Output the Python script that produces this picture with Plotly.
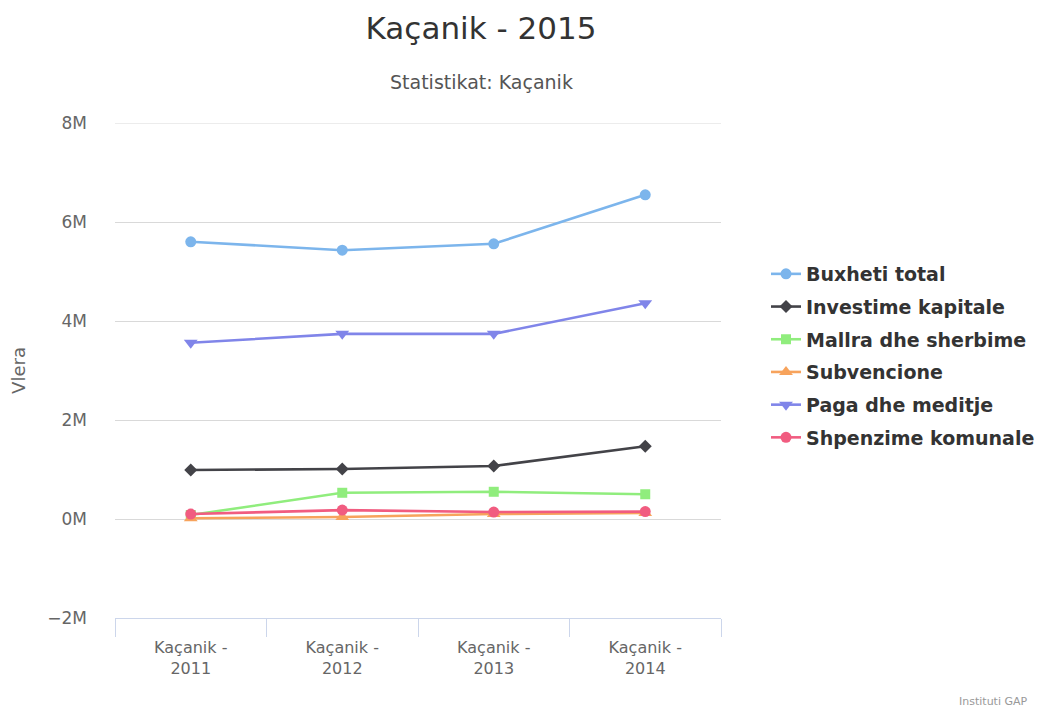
import plotly.graph_objects as go

categories = ["Kaçanik -<br>2011", "Kaçanik -<br>2012", "Kaçanik -<br>2013", "Kaçanik -<br>2014"]
buxheti_total = [5600000, 5430000, 5560000, 6550000]
investime_kapitale = [990000, 1010000, 1070000, 1470000]
mallra_dhe_sherbime = [80000, 530000, 550000, 500000]
subvencione = [15000, 40000, 100000, 120000]
paga_dhe_meditje = [3560000, 3740000, 3740000, 4360000]
shpenzime_komunale = [100000, 180000, 140000, 150000]
y_ticks = [-2000000, 0, 2000000, 4000000, 6000000, 8000000]
y_tick_labels = ["−2M", "0M", "2M", "4M", "6M", "8M"]

series = [
    ("Buxheti total", buxheti_total, "#7cb5ec", "circle", 11),
    ("Investime kapitale", investime_kapitale, "#434348", "diamond", 10),
    ("Mallra dhe sherbime", mallra_dhe_sherbime, "#90ed7d", "square", 10),
    ("Subvencione", subvencione, "#f7a35c", "triangle-up", 12),
    ("Paga dhe meditje", paga_dhe_meditje, "#8085e9", "triangle-down", 12),
    ("Shpenzime komunale", shpenzime_komunale, "#f15c80", "circle", 11),
]

FONT = "DejaVu Sans"
xs = list(range(len(categories)))

# figure sits at (8,8) in the page because of the body margin
W, H = 1042, 700
L, T = 107, 115
PW, PH = 606, 495

fig = go.Figure()
for name, vals, color, sym, msize in series:
    fig.add_trace(go.Scatter(
        x=xs, y=vals, name=name, mode="lines+markers", legendgroup=name,
        line=dict(color=color, width=2.6),
        marker=dict(color=color, symbol=sym, size=msize),
    ))

fig.update_layout(
    width=W, height=H,
    paper_bgcolor="white", plot_bgcolor="white",
    margin=dict(l=L, r=W - L - PW, t=T, b=H - T - PH, autoexpand=False),
    font=dict(family=FONT, color="#666666", size=16),
    title=dict(text="Kaçanik - 2015", x=473 / W, xanchor="center", xref="container",
               y=1 - 20 / H, yanchor="middle", yref="container",
               font=dict(family=FONT, size=31, color="#333333")),
    showlegend=True,
    legend=dict(x=(758 - L) / PW, xanchor="left", y=(T + PH - 247) / PH, yanchor="top",
                font=dict(family=FONT, size=19, color="#333333", weight="bold"),
                tracegroupgap=5, bgcolor="rgba(0,0,0,0)"),
    xaxis=dict(
        range=[-0.5, 3.5], tickmode="array", tickvals=xs, ticktext=categories,
        showgrid=False, zeroline=False, showline=True, linecolor="#ccd6eb", linewidth=1,
        ticks="", ticklabelstandoff=15,
        tickfont=dict(family=FONT, size=16, color="#666666"),
        minor=dict(tickmode="array", tickvals=[-0.5, 0.5, 1.5, 2.5, 3.5],
                   ticks="outside", ticklen=18, tickcolor="#ccd6eb", tickwidth=1, showgrid=False),
    ),
    yaxis=dict(
        range=[y_ticks[0], y_ticks[-1]], tickmode="array", tickvals=y_ticks, ticktext=y_tick_labels,
        showgrid=True, gridcolor="#d9d9d9", gridwidth=1, zeroline=False, showline=False,
        ticklabelstandoff=27,
        tickfont=dict(family=FONT, size=17, color="#666666"),
        title=dict(text="Vlera", standoff=22, font=dict(family=FONT, size=18, color="#666666")),
    ),
    hovermode="x",
)

# top grid line (plotly omits the grid line lying on the plot edge)
fig.add_shape(type="line", xref="paper", x0=0, x1=1, yref="y", y0=y_ticks[-1], y1=y_ticks[-1],
              line=dict(color="#d9d9d9", width=1), layer="below")

fig.add_annotation(text="Statistikat: Kaçanik", xref="paper", yref="paper",
                   x=(474 - L) / PW, y=(T + PH - 74) / PH, xanchor="center", yanchor="middle",
                   showarrow=False, font=dict(family=FONT, size=19, color="#555555"))
fig.add_annotation(text="Instituti GAP", xref="paper", yref="paper",
                   x=(1022 - L) / PW, y=(T + PH - 693) / PH, xanchor="right", yanchor="middle",
                   showarrow=False, font=dict(family=FONT, size=11, color="#999999"))

fig.write_html("out.html")
